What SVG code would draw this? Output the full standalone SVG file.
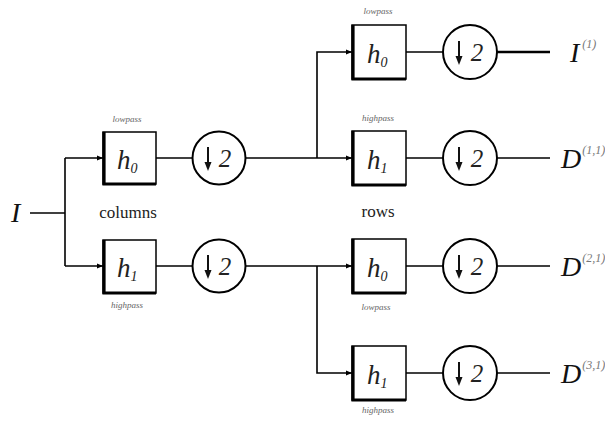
<svg xmlns="http://www.w3.org/2000/svg" width="605" height="424" viewBox="0 0 605 424" font-family="Times New Roman">
<defs>
<marker id="ah" viewBox="0 0 6 6" refX="6" refY="3" markerWidth="6" markerHeight="6" markerUnits="userSpaceOnUse" orient="auto">
<path d="M0,0.5 L6,3 L0,5.5 Z" fill="#000"/>
</marker>
<g id="dec">
<path d="M-11,-11 V6" stroke="#111" stroke-width="2" fill="none"/>
<path d="M-14.5,4 L-7.5,4 L-11,13 Z" fill="#111"/>
</g>
</defs>
<g id="connectors" stroke="#000" stroke-width="1.6" fill="none">
<path d="M30,213 H65"/>
<path d="M65,158 V266"/>
<path d="M65,158 H103" marker-end="url(#ah)"/>
<path d="M65,266 H103" marker-end="url(#ah)"/>
<path d="M156,158 H192"/>
<path d="M156,266 H192"/>
<path d="M246,158 H352" marker-end="url(#ah)"/>
<path d="M317,158 V52 H352" marker-end="url(#ah)"/>
<path d="M246,266 H352" marker-end="url(#ah)"/>
<path d="M317,266 V373 H352" marker-end="url(#ah)"/>
<path d="M406,52 H443"/>
<path d="M406,158 H443"/>
<path d="M406,266 H443"/>
<path d="M406,373 H443"/>
<path stroke-width="2.4" d="M497,52 H550"/>
<path d="M497,158 H550"/>
<path d="M497,266 H550"/>
<path d="M497,373 H550"/>
</g>
<g id="input"><text font-family="Times New Roman" font-style="italic" font-size="28" fill="#111" x="11" y="222">I</text></g>
<g id="col_h0">
<rect x="103" y="132" width="53" height="52" fill="#fff" stroke="#000" stroke-width="1.5"/>
<path d="M104,132 V184 H156" fill="none" stroke="#000" stroke-width="3.2"/>
<text font-family="Times New Roman" font-style="italic" font-size="27" fill="#222" x="117" y="169">h<tspan font-size="14" dy="4">0</tspan></text>
<text font-family="Times New Roman" font-style="italic" font-size="9" fill="#666" x="127" y="122" text-anchor="middle">lowpass</text>
</g>
<g id="col_h1">
<rect x="103" y="240" width="53" height="53" fill="#fff" stroke="#000" stroke-width="1.5"/>
<path d="M104,240 V293 H156" fill="none" stroke="#000" stroke-width="3.2"/>
<text font-family="Times New Roman" font-style="italic" font-size="27" fill="#222" x="117" y="277">h<tspan font-size="14" dy="4">1</tspan></text>
<text font-family="Times New Roman" font-style="italic" font-size="9" fill="#666" x="127" y="308" text-anchor="middle">highpass</text>
</g>
<g id="col_d0">
<circle cx="219" cy="158" r="26.5" fill="#fff" stroke="#000" stroke-width="2"/>
<use href="#dec" x="219" y="158"/>
<text font-family="Times New Roman" font-style="italic" font-size="25" fill="#222" x="225" y="167" text-anchor="middle">2</text>
</g>
<g id="col_d1">
<circle cx="219" cy="266" r="26.5" fill="#fff" stroke="#000" stroke-width="2"/>
<use href="#dec" x="219" y="266"/>
<text font-family="Times New Roman" font-style="italic" font-size="25" fill="#222" x="225" y="275" text-anchor="middle">2</text>
</g>
<g id="labels">
<text font-family="Times New Roman" font-size="17" fill="#222" x="128" y="218" text-anchor="middle">columns</text>
<text font-family="Times New Roman" font-size="17" fill="#222" x="378" y="217" text-anchor="middle">rows</text>
</g>
<g id="row_h0a">
<rect x="352" y="25" width="54" height="54" fill="#fff" stroke="#000" stroke-width="1.5"/>
<path d="M353,25 V79 H406" fill="none" stroke="#000" stroke-width="3.2"/>
<text font-family="Times New Roman" font-style="italic" font-size="27" fill="#222" x="367" y="63">h<tspan font-size="14" dy="4">0</tspan></text>
<text font-family="Times New Roman" font-style="italic" font-size="9" fill="#666" x="378" y="14" text-anchor="middle">lowpass</text>
</g>
<g id="row_h1a">
<rect x="352" y="131" width="54" height="54" fill="#fff" stroke="#000" stroke-width="1.5"/>
<path d="M353,131 V185 H406" fill="none" stroke="#000" stroke-width="3.2"/>
<text font-family="Times New Roman" font-style="italic" font-size="27" fill="#222" x="367" y="169">h<tspan font-size="14" dy="4">1</tspan></text>
<text font-family="Times New Roman" font-style="italic" font-size="9" fill="#666" x="378" y="121" text-anchor="middle">highpass</text>
</g>
<g id="row_h0b">
<rect x="352" y="239" width="54" height="54" fill="#fff" stroke="#000" stroke-width="1.5"/>
<path d="M353,239 V293 H406" fill="none" stroke="#000" stroke-width="3.2"/>
<text font-family="Times New Roman" font-style="italic" font-size="27" fill="#222" x="367" y="277">h<tspan font-size="14" dy="4">0</tspan></text>
<text font-family="Times New Roman" font-style="italic" font-size="9" fill="#666" x="376" y="310" text-anchor="middle">lowpass</text>
</g>
<g id="row_h1b">
<rect x="352" y="346" width="54" height="54" fill="#fff" stroke="#000" stroke-width="1.5"/>
<path d="M353,346 V400 H406" fill="none" stroke="#000" stroke-width="3.2"/>
<text font-family="Times New Roman" font-style="italic" font-size="27" fill="#222" x="367" y="384">h<tspan font-size="14" dy="4">1</tspan></text>
<text font-family="Times New Roman" font-style="italic" font-size="9" fill="#666" x="378" y="413" text-anchor="middle">highpass</text>
</g>
<g id="row_d0"><circle cx="470" cy="52" r="27" fill="#fff" stroke="#000" stroke-width="2"/><use href="#dec" x="470" y="52"/><text font-family="Times New Roman" font-style="italic" font-size="25" fill="#222" x="477" y="61" text-anchor="middle">2</text></g>
<g id="row_d1"><circle cx="470" cy="158" r="27" fill="#fff" stroke="#000" stroke-width="2"/><use href="#dec" x="470" y="158"/><text font-family="Times New Roman" font-style="italic" font-size="25" fill="#222" x="477" y="167" text-anchor="middle">2</text></g>
<g id="row_d2"><circle cx="470" cy="266" r="27" fill="#fff" stroke="#000" stroke-width="2"/><use href="#dec" x="470" y="266"/><text font-family="Times New Roman" font-style="italic" font-size="25" fill="#222" x="477" y="275" text-anchor="middle">2</text></g>
<g id="row_d3"><circle cx="470" cy="373" r="27" fill="#fff" stroke="#000" stroke-width="2"/><use href="#dec" x="470" y="373"/><text font-family="Times New Roman" font-style="italic" font-size="25" fill="#222" x="477" y="382" text-anchor="middle">2</text></g>
<g id="out_I1"><text font-family="Times New Roman" font-style="italic" font-size="28" fill="#111" x="570" y="62">I<tspan font-size="12" fill="#777" dx="3" dy="-14">(1)</tspan></text></g>
<g id="out_D11"><text font-family="Times New Roman" font-style="italic" font-size="28" fill="#111" x="561" y="168">D<tspan font-size="12" fill="#777" dx="1" dy="-14">(1,1)</tspan></text></g>
<g id="out_D21"><text font-family="Times New Roman" font-style="italic" font-size="28" fill="#111" x="561" y="276">D<tspan font-size="12" fill="#777" dx="1" dy="-14">(2,1)</tspan></text></g>
<g id="out_D31"><text font-family="Times New Roman" font-style="italic" font-size="28" fill="#111" x="561" y="383">D<tspan font-size="12" fill="#777" dx="1" dy="-14">(3,1)</tspan></text></g>
</svg>
